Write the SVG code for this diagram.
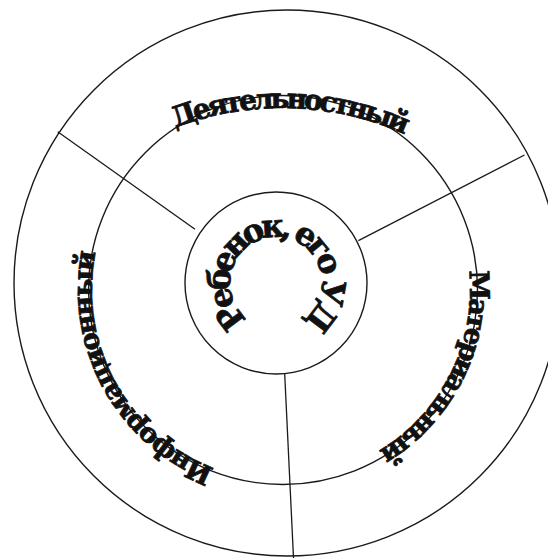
<svg xmlns="http://www.w3.org/2000/svg" xmlns:xlink="http://www.w3.org/1999/xlink" width="548" height="558" viewBox="0 0 548 558">
  <style>
    .ring { fill: none; stroke: #1a1a1a; stroke-width: 1.4; }
    .div { stroke: #1a1a1a; stroke-width: 1.3; fill: none; }
    .lbl { font-family: "DejaVu Serif", "Liberation Serif", serif; font-weight: bold; fill: #111; stroke: #111; stroke-width: 0.8; stroke-linejoin: round; }
  </style>
  <defs>
    <path id="pAct" d="M89.2,178.2 A300,300 0 0 1 474.8,178.2"/>
    <path id="pMat" d="M469.0,270.5 A187,187 0 0 1 347.0,465.7"/>
    <path id="pInf" d="M214.5,468.3 A191,191 0 0 1 103.5,224.7"/>
    <path id="pCen" d="M247.7,319.2 A46,46 0 1 1 300.4,322.0"/>
  </defs>
  <rect width="548" height="558" fill="#ffffff"/>

  <g id="outer-ring">
    <circle class="ring" cx="287" cy="283" r="273"/>
  </g>
  <g id="middle-ring">
    <circle class="ring" cx="283" cy="290" r="194.5"/>
  </g>

  <g id="connectors">
    <line class="div" x1="57.7" y1="131.7" x2="195" y2="229.3"/>
    <line class="div" x1="524.5" y1="155" x2="358.4" y2="240.7"/>
    <line class="div" x1="284.7" y1="374" x2="293.5" y2="558"/>
  </g>

  <g id="node-activity">
    <text class="lbl" font-size="28"><textPath xlink:href="#pAct" href="#pAct" startOffset="218" text-anchor="middle" textLength="236" lengthAdjust="spacing">Деятельностный</textPath></text>
  </g>
  <g id="node-material">
    <text class="lbl" font-size="27"><textPath xlink:href="#pMat" href="#pMat" textLength="213" lengthAdjust="spacing">Материальный</textPath></text>
  </g>
  <g id="node-information">
    <text class="lbl" font-size="27"><textPath xlink:href="#pInf" href="#pInf" textLength="268" lengthAdjust="spacing">Информационный</textPath></text>
  </g>
  <g id="node-center">
    <circle class="ring" cx="276" cy="283" r="91"/>
    <text class="lbl" font-size="32"><textPath xlink:href="#pCen" href="#pCen" textLength="230" lengthAdjust="spacing">Ребенок, его УД</textPath></text>
  </g>
</svg>
